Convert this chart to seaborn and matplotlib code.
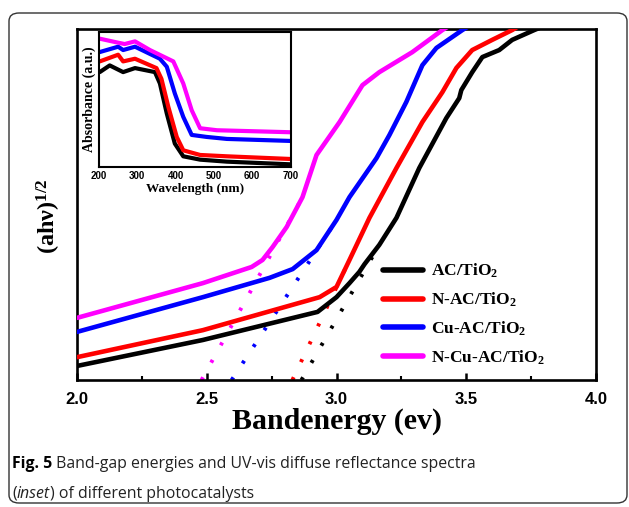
import numpy as np
import pandas as pd
import matplotlib
matplotlib.use("Agg")
import matplotlib.pyplot as plt
import seaborn as sns
from matplotlib.patches import FancyBboxPatch

# ---------------- data ----------------
series = ["AC/TiO$_2$", "N-AC/TiO$_2$", "Cu-AC/TiO$_2$", "N-Cu-AC/TiO$_2$"]
colors = ["#000000", "#ff0000", "#0000ff", "#ff00ff"]

# main plot: (ahv)^1/2 vs band energy (arbitrary units 0..100)
ac_E = [2.0, 2.485, 2.927, 3.0, 3.05, 3.088, 3.108, 3.165, 3.231, 3.319, 3.423, 3.473, 3.481, 3.523, 3.562, 3.627, 3.677, 3.762, 3.858]
ac_y = [4.0, 11.4, 19.4, 23.6, 27.6, 30.8, 33.0, 38.5, 46.2, 60.4, 74.6, 80.3, 82.6, 87.7, 92.0, 94.0, 96.9, 99.7, 102.6]
n_E = [2.0, 2.485, 2.935, 3.0, 3.05, 3.127, 3.231, 3.331, 3.408, 3.462, 3.523, 3.600, 3.677, 3.742]
n_y = [6.5, 14.2, 23.6, 26.5, 34.2, 46.2, 60.4, 73.5, 82.0, 88.9, 94.0, 96.9, 99.7, 102.6]
cu_E = [2.0, 2.485, 2.742, 2.831, 2.923, 3.0, 3.05, 3.154, 3.204, 3.269, 3.331, 3.385, 3.485, 3.55]
cu_y = [13.7, 23.6, 29.1, 31.6, 37.0, 45.6, 52.1, 63.2, 69.8, 79.2, 89.7, 94.6, 99.7, 102.6]
ncu_E = [2.0, 2.485, 2.673, 2.715, 2.754, 2.808, 2.869, 2.923, 3.012, 3.1, 3.165, 3.292, 3.408, 3.473]
ncu_y = [17.7, 27.6, 32.2, 34.2, 37.9, 43.6, 52.1, 64.1, 73.5, 84.0, 87.7, 93.4, 99.7, 102.6]

# band-gap tangent lines: x-intercept and upper end energy
band_gap = [2.865, 2.83, 2.596, 2.48]
tangent_end = [3.165, 3.06, 3.0, 2.869]

# inset: absorbance vs wavelength
ac_wl = [202, 228, 263, 294, 346, 359, 377, 398, 420, 464, 534, 700]
ac_abs = [0.71, 0.76, 0.71, 0.74, 0.71, 0.625, 0.40, 0.175, 0.08, 0.055, 0.04, 0.02]
n_wl = [202, 250, 263, 294, 350, 363, 381, 403, 420, 464, 534, 700]
n_abs = [0.79, 0.84, 0.79, 0.81, 0.74, 0.66, 0.45, 0.225, 0.125, 0.09, 0.08, 0.06]
cu_wl = [202, 250, 263, 294, 359, 377, 398, 420, 442, 481, 534, 700]
cu_abs = [0.86, 0.90, 0.875, 0.90, 0.81, 0.75, 0.55, 0.375, 0.24, 0.225, 0.21, 0.195]
ncu_wl = [202, 250, 267, 294, 333, 394, 420, 442, 464, 508, 700]
ncu_abs = [0.96, 0.93, 0.92, 0.94, 0.875, 0.79, 0.625, 0.425, 0.29, 0.275, 0.26]

main_E = [ac_E, n_E, cu_E, ncu_E]
main_y = [ac_y, n_y, cu_y, ncu_y]
ins_wl = [ac_wl, n_wl, cu_wl, ncu_wl]
ins_abs = [ac_abs, n_abs, cu_abs, ncu_abs]

main_df = pd.concat([pd.DataFrame({"E": e, "y": y, "s": s}) for e, y, s in zip(main_E, main_y, series)], ignore_index=True)
ins_df = pd.concat([pd.DataFrame({"wl": w, "a": a, "s": s}) for w, a, s in zip(ins_wl, ins_abs, series)], ignore_index=True)

# ---------------- style ----------------
sns.set_theme(style="white")
plt.rcParams["font.family"] = ["Liberation Serif", "DejaVu Serif"]
plt.rcParams["text.color"] = "black"
plt.rcParams["axes.labelcolor"] = "black"
plt.rcParams["xtick.color"] = "black"
plt.rcParams["ytick.color"] = "black"
plt.rcParams["mathtext.fontset"] = "custom"
plt.rcParams["mathtext.rm"] = "Liberation Serif:bold"
plt.rcParams["mathtext.it"] = "Liberation Serif:italic:bold"
plt.rcParams["mathtext.bf"] = "Liberation Serif:bold"

fig = plt.figure(figsize=(6.29, 5.07), dpi=100)
W, H = 629, 507

# outer rounded box
box = FancyBboxPatch((9 / W, 4 / H), (618 / W), (490 / H),
                     boxstyle="round,pad=0,rounding_size=0.016",
                     transform=fig.transFigure, fill=False, edgecolor="#333333", lw=1.0)
fig.patches.append(box)

ax = fig.add_axes([77 / W, 1 - 380 / H, 519 / W, 351 / H])
pal = dict(zip(series, colors))

# tangent lines (dotted), below the curves
for E, y, eg, te, c in zip(main_E, main_y, band_gap, tangent_end, colors):
    ye = np.interp(te, E, y)
    ax.plot([eg, te], [0, ye], color=c, lw=2.8, linestyle=(0, (0.8, 4.3)), zorder=1)

sns.lineplot(data=main_df, x="E", y="y", hue="s", palette=pal, lw=3.3, ax=ax,
             sort=False, estimator=None, legend=True, zorder=3)
ax.set_xlim(2.0, 4.0)
ax.set_ylim(0, 100)
ax.set_xticks([2.0, 2.5, 3.0, 3.5, 4.0])
ax.set_xticks([2.25, 2.75, 3.25, 3.75], minor=True)
ax.set_yticks([])
ax.tick_params(axis="x", which="major", direction="in", length=5, width=1.8, bottom=True, top=False, pad=9)
ax.tick_params(axis="x", which="minor", direction="in", length=3, width=1.5, bottom=True, top=False)
for lab in ax.get_xticklabels():
    lab.set_fontfamily("Liberation Sans")
    lab.set_fontweight("bold")
    lab.set_fontsize(12)
for sp in ax.spines.values():
    sp.set_linewidth(1.9)
    sp.set_color("black")
ax.set_xlabel("Bandenergy (ev)", fontsize=21.5, fontweight="bold", labelpad=0)
ax.set_ylabel("(ahν)$^{1/2}$", fontsize=17.5, fontweight="bold")
ax.yaxis.set_label_coords(-0.027, 0.466)

leg = ax.legend(loc="center left", bbox_to_anchor=(0.56, 0.187), frameon=False,
                handlelength=2.3, handletextpad=0.45, labelspacing=0.6,
                prop={"family": "Liberation Serif", "weight": "bold", "size": 12.5})
for h in leg.get_lines():
    h.set_linewidth(4)

# inset
axi = fig.add_axes([99 / W, 1 - 167 / H, 191.5 / W, 135 / H])
sns.lineplot(data=ins_df, x="wl", y="a", hue="s", palette=pal, lw=3.0, ax=axi,
             sort=False, estimator=None, legend=False)
axi.set_xlim(200, 700)
axi.set_ylim(0, 1.01)
axi.set_xticks([200, 300, 400, 500, 600, 700])
axi.set_yticks([])
axi.tick_params(axis="x", direction="in", length=0, pad=3)
for lab in axi.get_xticklabels():
    lab.set_fontfamily("Liberation Sans")
    lab.set_fontweight("bold")
    lab.set_fontsize(7)
for sp in axi.spines.values():
    sp.set_linewidth(1.5)
    sp.set_color("black")
axi.set_xlabel("Wavelength (nm)", fontsize=9.5, fontweight="bold", labelpad=1)
axi.set_ylabel("Absorbance (a.u.)", fontsize=10, fontweight="bold", labelpad=2)

# caption
fig.canvas.draw()
r = fig.canvas.get_renderer()
cap_font = ["Open Sans", "DejaVu Sans"]
fs = 11.4
x0 = 12 / W
y1 = 1 - 464 / H
y2 = 1 - 494 / H
t = fig.text(x0, y1, "Fig. 5", fontsize=fs, fontweight="bold", family=cap_font, va="center")
wb = t.get_window_extent(r).width / W
fig.text(x0 + wb, y1, " Band-gap energies and UV-vis diffuse reflectance spectra",
         fontsize=fs, family=cap_font, va="center", color="#222222")
t = fig.text(x0, y2, "(", fontsize=fs, family=cap_font, va="center", color="#222222")
w1 = t.get_window_extent(r).width / W
t = fig.text(x0 + w1, y2, "inset", fontsize=fs, family=cap_font, style="italic", va="center", color="#222222")
w2 = t.get_window_extent(r).width / W
fig.text(x0 + w1 + w2, y2, ") of different photocatalysts", fontsize=fs, family=cap_font, va="center", color="#222222")

fig.savefig("out.png", dpi=100)
